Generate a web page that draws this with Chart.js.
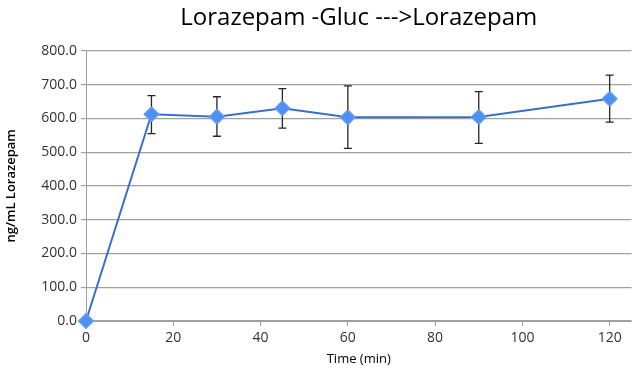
<!DOCTYPE html>
<html lang="en">
<head>
    <meta charset="UTF-8">
    <title>Lorazepam</title>
    <script src="https://cdn.jsdelivr.net/npm/chart.js"></script>
    <style>
        html, body { margin: 0; padding: 0; background: #fff; }
    </style>
</head>
<body>
    <canvas id="grafico" width="640" height="372"></canvas>
<script>
    // dados
    const tempos = [0, 15, 30, 45, 60, 90, 120]
    const medias = [0, 612, 605, 630, 603, 604, 658]
    const erroSup = [0, 667, 664, 688, 696, 679, 728]
    const erroInf = [0, 555, 547, 571, 511, 526, 589]
    const ticksY = [0, 100, 200, 300, 400, 500, 600, 700, 800]
    const ticksX = [0, 20, 40, 60, 80, 100, 120]

    const fonte = "'Open Sans', 'DejaVu Sans', sans-serif"

    // barras de erro desenhadas pelas escalas do grafico
    const barrasErro = {
        id: 'barrasErro',
        afterDatasetsDraw(chart) {
            const ctx = chart.ctx
            const x = chart.scales.x
            const y = chart.scales.y
            ctx.save()
            ctx.strokeStyle = '#262626'
            ctx.lineWidth = 1.3
            for (let i = 0; i < tempos.length; i++) {
                if (erroSup[i] == erroInf[i]) continue
                const px = x.getPixelForValue(tempos[i])
                const yt = y.getPixelForValue(erroSup[i])
                const yb = y.getPixelForValue(erroInf[i])
                ctx.beginPath()
                ctx.moveTo(px, yt); ctx.lineTo(px, yb)
                ctx.moveTo(px - 4, yt); ctx.lineTo(px + 4, yt)
                ctx.moveTo(px - 4, yb); ctx.lineTo(px + 4, yb)
                ctx.stroke()
            }
            // marcadores por cima
            const meta = chart.getDatasetMeta(0)
            meta.data.forEach(function (p) { p.draw(ctx) })
            ctx.restore()
        }
    }

    const pontos = tempos.map(function (t, i) { return { x: t, y: medias[i] } })

    new Chart(document.getElementById('grafico'), {
        type: 'line',
        data: {
            datasets: [{
                data: pontos,
                borderColor: '#3a6fc8',
                borderWidth: 2,
                backgroundColor: '#4d8ff2',
                pointBackgroundColor: '#4d8ff2',
                pointBorderColor: '#5f9bf4',
                pointBorderWidth: 1.5,
                pointStyle: 'rectRot',
                pointRadius: 7,
                tension: 0,
                clip: false
            }]
        },
        plugins: [barrasErro],
        options: {
            responsive: false,
            animation: false,
            devicePixelRatio: 1,
            layout: { padding: { left: 0, right: 2, top: 0, bottom: 0 } },
            plugins: {
                legend: { display: false },
                tooltip: { enabled: false },
                title: {
                    display: true,
                    fullSize: false,
                    text: 'Lorazepam -Gluc --->Lorazepam',
                    color: '#000',
                    font: { family: fonte, size: 24, weight: 'normal' },
                    padding: { top: 4, bottom: 18 }
                }
            },
            scales: {
                x: {
                    type: 'linear',
                    min: 0,
                    max: 125,
                    afterBuildTicks: function (s) { s.ticks = ticksX.map(function (v) { return { value: v } }) },
                    afterFit: function (s) { s.height = 51 },
                    ticks: {
                        color: '#333',
                        font: { family: fonte, size: 14 },
                        padding: 4,
                        autoSkip: false,
                        maxRotation: 0
                    },
                    grid: { display: true, drawOnChartArea: false, tickLength: 5, color: '#a0a0a0' },
                    border: { display: true, color: '#a0a0a0' },
                    title: {
                        display: true,
                        text: 'Time (min)',
                        color: '#000',
                        font: { family: fonte, size: 13 },
                        padding: { top: 0, bottom: 5 }
                    }
                },
                y: {
                    min: 0,
                    max: 800,
                    afterBuildTicks: function (s) { s.ticks = ticksY.map(function (v) { return { value: v } }) },
                    afterFit: function (s) { s.width = 86 },
                    ticks: {
                        color: '#333',
                        font: { family: fonte, size: 14 },
                        padding: 4,
                        autoSkip: false,
                        callback: function (v) { return v.toFixed(1) }
                    },
                    grid: { color: '#a0a0a0', tickLength: 5, lineWidth: 1.2 },
                    border: { display: true, color: '#a0a0a0' },
                    title: {
                        display: true,
                        text: 'ng/mL Lorazepam',
                        color: '#000',
                        font: { family: fonte, size: 13, weight: '600' },
                        padding: { top: 3, bottom: 0 }
                    }
                }
            }
        }
    })
</script>
</body>
</html>
